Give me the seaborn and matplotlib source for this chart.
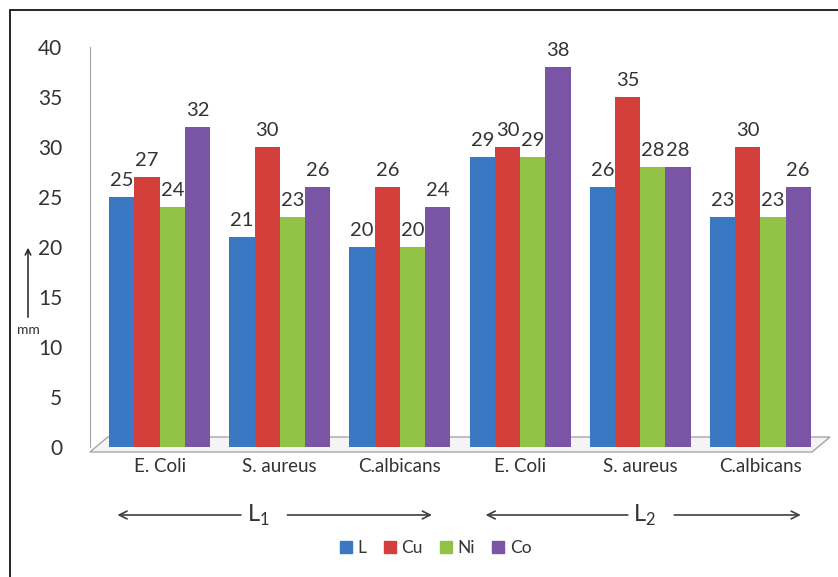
import numpy as np
import pandas as pd
import seaborn as sns
import matplotlib.pyplot as plt
from matplotlib.patches import Polygon, Rectangle
from matplotlib.transforms import blended_transform_factory

# data
organisms = ['E. Coli', 'S. aureus', 'C.albicans', 'E. Coli', 'S. aureus', 'C.albicans']
ligands = ['L1', 'L1', 'L1', 'L2', 'L2', 'L2']
L_vals = [25, 21, 20, 29, 26, 23]
Cu_vals = [27, 30, 26, 30, 35, 30]
Ni_vals = [24, 23, 20, 29, 28, 23]
Co_vals = [32, 26, 24, 38, 28, 26]
series = ['L', 'Cu', 'Ni', 'Co']
colors = ['#3b78c4', '#d3403b', '#92c347', '#7a55a6']

# long format table for seaborn
keys = [f'{lg} {org}' for lg, org in zip(ligands, organisms)]
rows = []
for name, vals in zip(series, [L_vals, Cu_vals, Ni_vals, Co_vals]):
    for k, v in zip(keys, vals):
        rows.append({'group': k, 'metal': name, 'mm': v})
df = pd.DataFrame(rows)

sns.set_style('white')
plt.rcParams['font.family'] = ['Lato', 'DejaVu Sans']
plt.rcParams['mathtext.fontset'] = 'custom'
plt.rcParams['mathtext.rm'] = 'Lato'

fig = plt.figure(figsize=(8.38, 5.77), dpi=100)
ax = fig.add_axes([90 / 838, 1 - 447 / 577, 740 / 838, 400 / 577])

sns.barplot(data=df, x='group', y='mm', hue='metal', order=keys,
            hue_order=series, palette=colors, width=0.84, ax=ax,
            saturation=1, edgecolor='none', zorder=3)

for cont in ax.containers:
    ax.bar_label(cont, fontsize=14.5, color='#333333', padding=6)

ax.set_ylim(0, 40)
ax.set_yticks(np.arange(0, 41, 5))
ax.set_xlim(-0.58, 5.58)
ax.set_xticks(range(6))
ax.set_xticklabels(organisms)
ax.tick_params(axis='y', labelsize=15, labelcolor='#333333', length=0, pad=20)
ax.tick_params(axis='x', labelsize=13.5, labelcolor='#333333', length=0, pad=8)
ax.set_xlabel('')
ax.set_ylabel('')
for s in ['top', 'right', 'bottom']:
    ax.spines[s].set_visible(False)
ax.spines['left'].set_color('#a6a6a6')

# 3d-like floor
floor = Polygon([(0, -0.0125), (0.9757, -0.0125), (1.0, 0.025), (0.024, 0.025)],
                closed=True, transform=ax.transAxes, facecolor='#f4f4f4',
                edgecolor='#a6a6a6', lw=1, clip_on=False, zorder=1)
ax.add_patch(floor)

# ligand arrows under the labels
tr = blended_transform_factory(ax.transData, ax.transAxes)
ya = -0.17
arrow_kw = dict(arrowstyle='->', color='#404040', lw=1.2, mutation_scale=14)
for lab, xc, xl, xr in [('L$_{\\mathregular{1}}$', 0.82, -0.375, 2.29),
                        ('L$_{\\mathregular{2}}$', 4.04, 2.69, 5.36)]:
    ax.text(xc, ya, lab, transform=tr, ha='center', va='center',
            fontsize=17, color='#333333')
    ax.annotate('', xy=(xl, ya), xytext=(xc - 0.12, ya), xycoords=tr,
                textcoords=tr, arrowprops=arrow_kw)
    ax.annotate('', xy=(xr, ya), xytext=(xc + 0.22, ya), xycoords=tr,
                textcoords=tr, arrowprops=arrow_kw)

# y unit with arrow
fig.text(28 / 838, 1 - 330 / 577, 'mm', fontsize=10, color='#333333',
         ha='center', va='center')
ax.annotate('', xy=(28 / 838, 1 - 245 / 577), xytext=(28 / 838, 1 - 320 / 577),
            xycoords='figure fraction', textcoords='figure fraction',
            arrowprops=dict(arrowstyle='->', color='#222222', lw=1.1))

# outer frame
fig.patches.append(Rectangle((10 / 838, -0.1), 1.0, 1 - 10 / 577 + 0.1,
                             transform=fig.transFigure, fill=False,
                             edgecolor='black', lw=1.2))

ax.legend_.remove()
handles = [Rectangle((0, 0), 1, 1, color=c) for c in colors]
fig.legend(handles, series, loc='center', bbox_to_anchor=(0.52, 1 - 548 / 577),
           ncol=4, frameon=False, fontsize=12.5, handlelength=0.7,
           handleheight=0.7, handletextpad=0.3, columnspacing=1.0,
           labelcolor='#333333')

fig.savefig('out.png', dpi=100)
